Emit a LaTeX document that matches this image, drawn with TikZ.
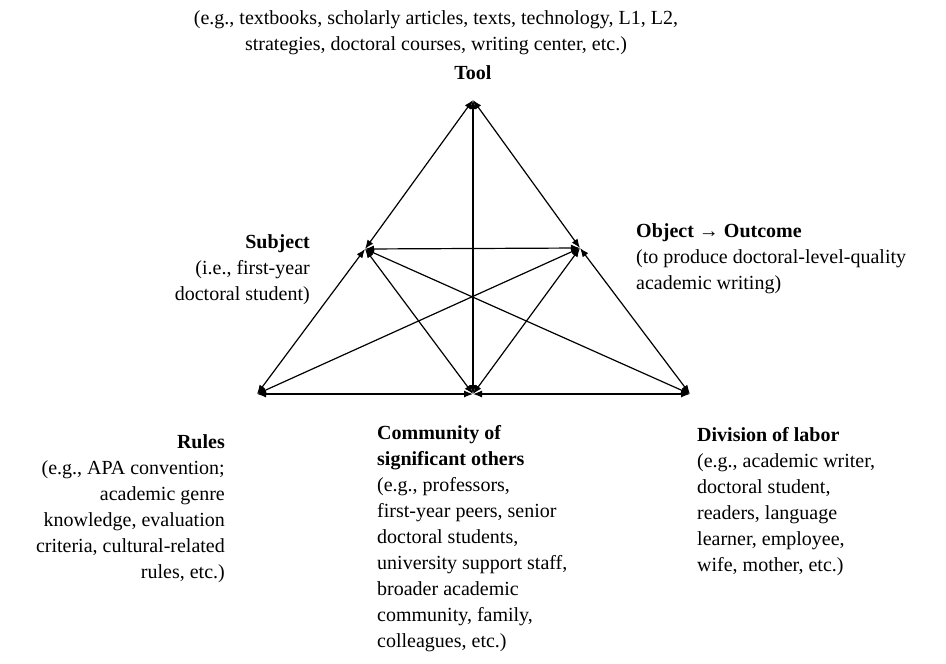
\documentclass[tikz,border=0pt]{standalone}
\usepackage{fontspec}
\setmainfont{Liberation Serif}
\usetikzlibrary{arrows.meta}
\begin{document}
\begin{tikzpicture}[x=1pt,y=-1pt,
  link/.style={line width=1.2pt,{Latex[length=9pt,width=7pt]}-{Latex[length=9pt,width=7pt]}},
  lbl/.style={inner sep=0pt,font=\fontsize{20}{26}\selectfont},
  lblr/.style={lbl,align=right},
  lbll/.style={lbl,align=left},
  lblc/.style={lbl,align=center}]
\useasboundingbox (0,0) rectangle (946,664);
\coordinate (T) at (473,100);
\coordinate (LM) at (365,249);
\coordinate (RM) at (580,248);
\coordinate (BL) at (257,394);
\coordinate (BM) at (473,394);
\coordinate (BR) at (690,394);
% edges
\draw[link] (BL) -- (LM);
\draw[link] (LM) -- (T);
\draw[link] (T) -- (RM);
\draw[link] (RM) -- (BR);
\draw[link] (BL) -- (BM);
\draw[link] (BM) -- (BR);
\draw[link] (LM) -- (RM);
\draw[link] (LM) -- (BR);
\draw[link] (RM) -- (BL);
\draw[link] (LM) -- (BM);
\draw[link] (RM) -- (BM);
\draw[link] (T) -- (BM);
% labels
\node[lblc,anchor=north] (tooltxt) at (436,10) {(e.g., textbooks, scholarly articles, texts, technology, L1, L2,\\ strategies, doctoral courses, writing center, etc.)};
\node[lblc,anchor=base] (tool) at (473,79) {\bfseries Tool};
\node[lblr,anchor=north east] (subj) at (310,234) {\bfseries Subject\\ (i.e., first-year\\ doctoral student)};
\node[lbll,anchor=north west] (obj) at (636,223) {\bfseries Object \textrightarrow{} Outcome\\ (to produce doctoral-level-quality\\ academic writing)};
\node[lblr,anchor=north east] (rules) at (225,434) {\bfseries Rules\\ (e.g., APA convention;\\ academic genre\\ knowledge, evaluation\\ criteria, cultural-related\\ rules, etc.)};
\node[lbll,anchor=north west] (comm) at (377,425) {\bfseries Community of\\ \bfseries significant others\\ (e.g., professors,\\ first-year peers, senior\\ doctoral students,\\ university support staff,\\ broader academic\\ community, family,\\ colleagues, etc.)};
\node[lbll,anchor=north west] (div) at (697,427) {\bfseries Division of labor\\ (e.g., academic writer,\\ doctoral student,\\ readers, language\\ learner, employee,\\ wife, mother, etc.)};
\end{tikzpicture}
\end{document}
